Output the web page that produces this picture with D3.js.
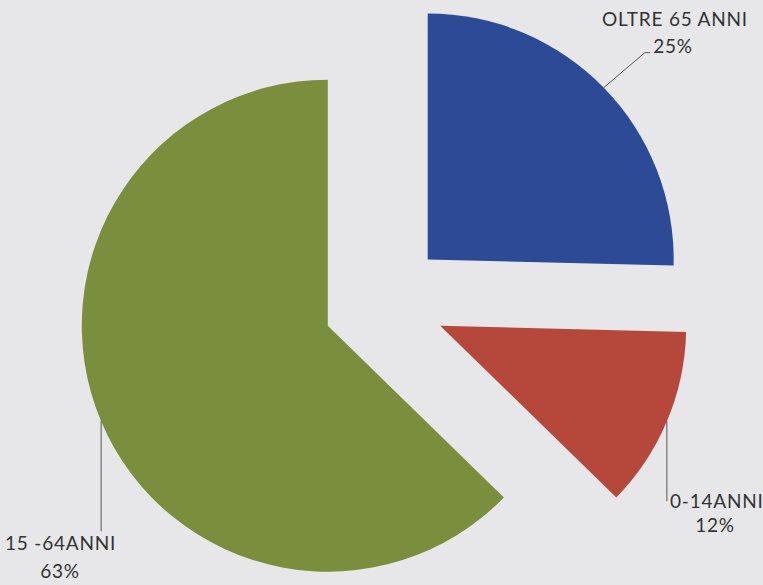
<!DOCTYPE html>
<html><head><meta charset="utf-8">
<script src="https://cdn.jsdelivr.net/npm/d3@7"></script>
<style>
html,body{margin:0;padding:0;background:#e7e7e9;}
svg{display:block;}
text{font-family:"Lato","Open Sans",sans-serif;fill:#333;letter-spacing:0.8px;}
</style></head>
<body>
<script>
const categories = ["OLTRE 65 ANNI", "0-14ANNI", "15 -64ANNI"];
const values = [25.4, 11.9, 62.7];
const colors = ["#2c4a96", "#b5483a", "#7b8e3e"];

const W = 763, H = 585;
const cx = 384, cy = 302, R = 246, explode = 61;

const svg = d3.select("body").append("svg").attr("width", W).attr("height", H);

const pie = d3.pie().sort(null).value(d => d.v);
const arcs = pie(categories.map((c, i) => ({c, v: values[i], col: colors[i]})));
const arc = d3.arc().innerRadius(0).outerRadius(R);

const g = svg.append("g").attr("transform", `translate(${cx},${cy})`);

function offset(a) {
  const m = (a.startAngle + a.endAngle) / 2;
  return [Math.sin(m) * explode, -Math.cos(m) * explode];
}

g.selectAll("path.slice").data(arcs).join("path")
  .attr("class", "slice")
  .attr("transform", d => { const o = offset(d); return `translate(${o[0]},${o[1]})`; })
  .attr("d", arc)
  .attr("fill", d => d.data.col);

// label layout, relative to chart centre
const labelCfg = [
  {line: (p) => [p, [p[0] + 41, p[1] - 35], [p[0] + 46, p[1] - 35]], tx: 291, ty: -276, anchor: "middle", tx2: 289, pct: -249},
  {line: (p) => [p, [p[0], p[1] + 80]], tx: 286, ty: 206, anchor: "start", tx2: 331, pct: 230},
  {line: (p) => [p, [p[0], p[1] + 110]], tx: -379, ty: 248, anchor: "start", tx2: -324, pct: 276}
];

arcs.forEach((d, i) => {
  const o = offset(d);
  const m = (d.startAngle + d.endAngle) / 2;
  const p = [o[0] + Math.sin(m) * R, o[1] - Math.cos(m) * R];
  const cfg = labelCfg[i];
  g.append("path")
    .attr("d", d3.line()(cfg.line(p)))
    .attr("fill", "none").attr("stroke", "#555").attr("stroke-width", 1);
  const pct = Math.round(d.data.v) + "%";
  g.append("text").attr("x", cfg.tx).attr("y", cfg.ty)
    .attr("text-anchor", cfg.anchor).attr("font-size", 19).text(d.data.c);
  g.append("text").attr("x", cfg.tx2).attr("y", cfg.pct)
    .attr("text-anchor", "middle").attr("font-size", 19).text(pct);
});
</script>
</body></html>
